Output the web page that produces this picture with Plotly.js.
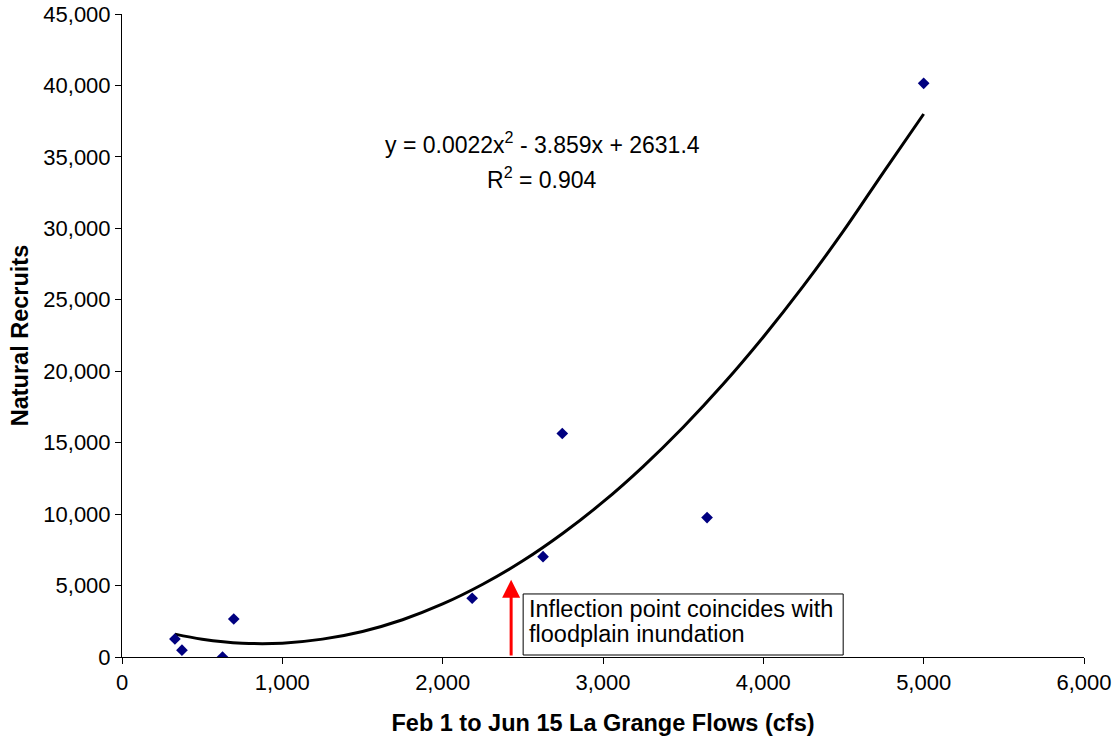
<!DOCTYPE html>
<html>
<head>
<meta charset="utf-8">
<script src="https://cdn.plot.ly/plotly-3.0.1.min.js"></script>
<style>html,body{margin:0;padding:0;background:#fff;}#chart{width:1115px;height:742px;}</style>
</head>
<body>
<div id="chart"></div>
<script>
// Observed data points (flow cfs, natural recruits)
var flows = [330, 374, 627, 697, 2184, 2626, 2746, 3649, 5000];
var recruits = [1260, 480, 0, 2660, 4110, 7020, 15640, 9760, 40150];

// Trendline
var trendX = [330, 500, 750, 1000, 1250, 1500, 1750, 2000, 2250, 2500, 2750, 3000, 3250, 3500, 3750, 4000, 4250, 4500, 4750, 5000];
var trendY = [1600, 1250, 970, 970, 1250, 1790, 2610, 3710, 5090, 6730, 8660, 10850, 13330, 16080, 19100, 22400, 25970, 29820, 33940, 38000];

var equationText = 'y = 0.0022x<sup>2</sup> - 3.859x + 2631.4';
var r2Text = 'R<sup>2</sup> = 0.904';
var noteLine1 = 'Inflection point coincides with';
var noteLine2 = 'floodplain inundation';
var arrowX = 2427, arrowTipY = 5400;

var font = 'Liberation Sans, Arial, sans-serif';

var traces = [
  {x: trendX, y: trendY, type: 'scatter', mode: 'lines', line: {color: '#000000', width: 3, shape: 'spline'}, hoverinfo: 'skip'},
  {x: flows, y: recruits, type: 'scatter', mode: 'markers', marker: {symbol: 'diamond', color: '#000080', size: 9}}
];

var layout = {
  width: 1115, height: 742,
  margin: {l: 122, r: 31, t: 14, b: 85},
  paper_bgcolor: '#ffffff', plot_bgcolor: '#ffffff',
  showlegend: false,
  font: {family: font, color: '#000000', size: 22},
  xaxis: {
    range: [0, 6000], tickvals: [0,1000,2000,3000,4000,5000,6000], tickformat: ',d',
    showgrid: false, zeroline: false, showline: true, linecolor: '#000', linewidth: 1,
    ticks: 'outside', ticklen: 6, tickcolor: '#000',
    tickfont: {family: font, size: 22},
    title: {text: 'Feb 1 to Jun 15 La Grange Flows (cfs)', font: {family: font, size: 23.5, weight: 'bold'}, standoff: 20}
  },
  yaxis: {
    range: [0, 45000], tickvals: [0,5000,10000,15000,20000,25000,30000,35000,40000,45000], tickformat: ',d',
    showgrid: false, zeroline: false, showline: true, linecolor: '#000', linewidth: 1,
    ticks: 'outside', ticklen: 6, tickcolor: '#000',
    tickfont: {family: font, size: 22},
    title: {text: 'Natural Recruits', font: {family: font, size: 23.5, weight: 'bold'}, standoff: 8}
  },
  shapes: [
    {type: 'rect', xref: 'x', yref: 'y', x0: 2502, x1: 4498, y0: 140, y1: 4412,
     line: {color: '#000', width: 1}, fillcolor: '#ffffff', layer: 'above'}
  ],
  annotations: [
    {x: 2620, y: 36000, xref: 'x', yref: 'y', text: equationText, showarrow: false, font: {family: font, size: 23}},
    {x: 2620, y: 33550, xref: 'x', yref: 'y', text: r2Text, showarrow: false, font: {family: font, size: 23}},
    {x: 2533, y: 3361, xref: 'x', yref: 'y', xanchor: 'left', yanchor: 'middle', align: 'left',
     text: noteLine1, showarrow: false, borderpad: 0, font: {family: font, size: 23.5}},
    {x: 2533, y: 1611, xref: 'x', yref: 'y', xanchor: 'left', yanchor: 'middle', align: 'left',
     text: noteLine2, showarrow: false, borderpad: 0, font: {family: font, size: 23.5}},
    {x: arrowX, y: arrowTipY, xref: 'x', yref: 'y', axref: 'x', ayref: 'y', ax: arrowX, ay: 0,
     text: '', showarrow: true, arrowcolor: '#ff0000', arrowwidth: 3, arrowhead: 2, arrowsize: 1.2, standoff: 0, startstandoff: 0}
  ]
};

Plotly.newPlot('chart', traces, layout, {staticPlot: true});
</script>
</body>
</html>
